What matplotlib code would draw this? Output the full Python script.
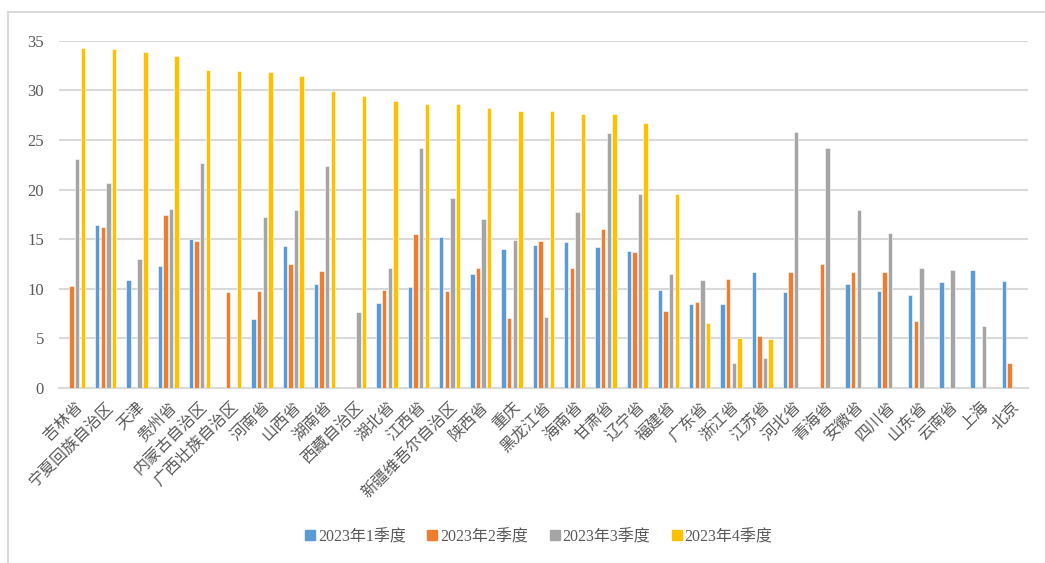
import numpy as np
import matplotlib
matplotlib.use("Agg")
import matplotlib.pyplot as plt
from matplotlib.lines import Line2D

# 数据（单位：与原图纵轴一致），缺失值为 None
provinces = ["吉林省", "宁夏回族自治区", "天津", "贵州省", "内蒙古自治区", "广西壮族自治区",
             "河南省", "山西省", "湖南省", "西藏自治区", "湖北省", "江西省",
             "新疆维吾尔自治区", "陕西省", "重庆", "黑龙江省", "海南省", "甘肃省",
             "辽宁省", "福建省", "广东省", "浙江省", "江苏省", "河北省", "青海省",
             "安徽省", "四川省", "山东省", "云南省", "上海", "北京"]

q1 = [None, 16.4, 10.9, 12.3, 15.0, None, 7.0, 14.3, 10.5, None, 8.6, 10.2,
      15.2, 11.5, 14.0, 14.4, 14.7, 14.2, 13.8, 9.9, 8.5, 8.5, 11.7, 9.7, None,
      10.5, 9.8, 9.4, 10.7, 11.9, 10.8]
q2 = [10.3, 16.2, None, 17.4, 14.8, 9.7, 9.8, 12.5, 11.8, None, 9.9, 15.5,
      9.8, 12.1, 7.1, 14.8, 12.1, 16.0, 13.7, 7.8, 8.7, 11.0, 5.2, 11.7, 12.5,
      11.7, 11.7, 6.8, None, None, 2.5]
q3 = [23.1, 20.7, 13.0, 18.0, 22.7, None, 17.2, 17.9, 22.4, 7.7, 12.1, 24.2,
      19.1, 17.0, 14.9, 7.2, 17.7, 25.7, 19.6, 11.5, 10.9, 2.5, 3.0, 25.8, 24.2,
      17.9, 15.6, 12.1, 11.9, 6.2, None]
q4 = [34.3, 34.2, 33.9, 33.5, 32.0, 31.9, 31.8, 31.4, 29.9, 29.4, 28.9, 28.6,
      28.6, 28.2, 27.9, 27.9, 27.6, 27.6, 26.7, 19.6, 6.6, 5.0, 4.9, None, None,
      None, None, None, None, None, None]

series_names = ["2023年1季度", "2023年2季度", "2023年3季度", "2023年4季度"]
colors = ["#5B9BD5", "#ED7D31", "#A5A5A5", "#FFC000"]

FONT = ["Liberation Serif", "Noto Sans CJK SC", "DejaVu Sans"]
plt.rcParams["font.family"] = FONT

W, H = 1045, 563
fig = plt.figure(figsize=(W / 100, H / 100), dpi=100)
ax = fig.add_axes([58.7 / W, (H - 388) / H, (1028 - 58.7) / W, (388 - 40.7) / H])

x = np.arange(len(provinces))
step, width = 0.18, 0.14
for i, (vals, c) in enumerate(zip([q1, q2, q3, q4], colors)):
    v = np.array([np.nan if a is None else a for a in vals], dtype=float)
    ax.bar(x + (i - 1.5) * step, v, width=width, color=c,
           edgecolor="white", linewidth=0.4, zorder=3)

ax.set_xlim(-0.5, len(provinces) - 0.5)
ax.set_ylim(0, 35)
ax.set_yticks(np.arange(0, 36, 5))
ax.yaxis.grid(True, color="#D9D9D9", linewidth=1.5, zorder=0)
ax.set_axisbelow(True)
for s in ["top", "right", "left"]:
    ax.spines[s].set_visible(False)
ax.spines["bottom"].set_color("#D9D9D9")
ax.spines["bottom"].set_linewidth(1.5)
ax.tick_params(axis="both", length=0)
ax.tick_params(axis="y", labelsize=12, labelcolor="#595959", pad=10.5)

ax.set_xticks(x)
ax.set_xticklabels(provinces, rotation=45, ha="right", va="top",
                   rotation_mode="anchor", fontsize=11.5, color="#595959")
ax.tick_params(axis="x", pad=8)

handles = [Line2D([], [], marker="s", linestyle="none", markersize=7,
                  markerfacecolor=c, markeredgecolor=c) for c in colors]
fig.legend(handles, series_names, loc="center", bbox_to_anchor=(0.515, 1 - 537 / H),
           ncol=4, frameon=False, fontsize=11.5, handletextpad=0.1,
           columnspacing=1.25, labelcolor="#595959", handlelength=0.8)

# 外框（上边与左边）
fig.add_artist(Line2D([7.5 / W, 1.0], [1 - 11.7 / H, 1 - 11.7 / H],
                      color="#D9D9D9", linewidth=1.5))
fig.add_artist(Line2D([7.5 / W, 7.5 / W], [0, 1 - 11.7 / H],
                      color="#D9D9D9", linewidth=1.5))

fig.savefig("out.png", dpi=100)
